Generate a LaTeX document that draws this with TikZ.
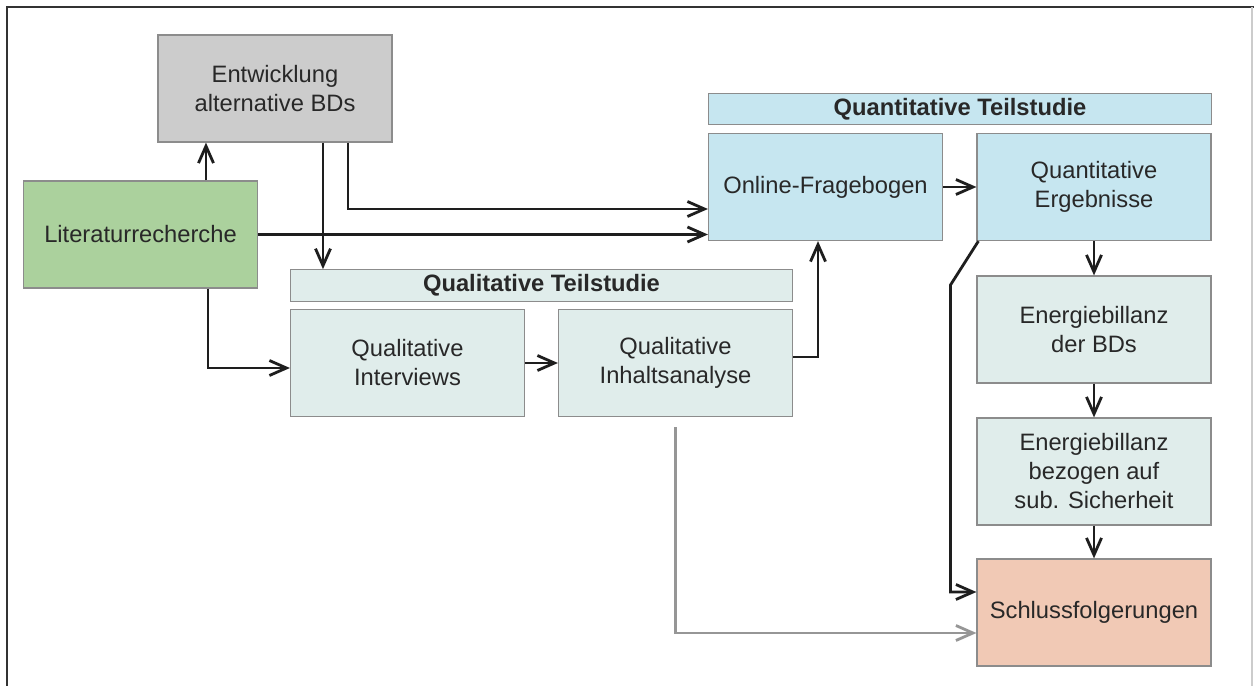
\documentclass[tikz,border=0pt]{standalone}
\usepackage{fontspec}
\setmainfont{Liberation Sans}
\usetikzlibrary{arrows.meta}

\definecolor{txtcol}{RGB}{40,40,40}
\definecolor{boxline}{RGB}{140,140,140}
\definecolor{graybox}{RGB}{204,204,204}
\definecolor{greenbox}{RGB}{171,209,157}
\definecolor{qualbox}{RGB}{224,237,235}
\definecolor{quantbox}{RGB}{198,230,240}
\definecolor{endbox}{RGB}{241,201,181}
\definecolor{arrcol}{RGB}{30,30,30}
\definecolor{grayarrcol}{RGB}{150,150,150}

\begin{document}
\begin{tikzpicture}[x=0.02cm, y=-0.02cm,
    box/.style={draw=boxline, line width=0.7pt, minimum width=4.68cm, minimum height=2.14cm,
      inner sep=0pt, align=center, text=txtcol, font=\fontsize{13.5}{16.5}\selectfont},
    headbox/.style={box, minimum width=10.05cm, minimum height=0.63cm, font=\fontsize{13.5}{16.5}\selectfont\bfseries},
    arr/.style={draw=arrcol, line width=1.6pt, -{Straight Barb[length=0.34cm, width=0.3cm, line width=1.6pt]}},
    grayarr/.style={arr, draw=grayarrcol}]
      \useasboundingbox (0,0) rectangle (1254,686);
      % Frame
      \draw[line width=1.2pt, black!80] (7,686) -- (7,7) -- (1254,7);
      \draw[line width=0.6pt, black!20] (1252,7) -- (1252,686);

      % Nodes
      \node[box, fill=graybox] at (275, 88.5) (entw) {Entwicklung\\alternative BDs};
      \node[box, fill=greenbox] at (140.5, 234.5) (lit) {Literaturrecherche};

      \node[headbox, fill=qualbox] at (541.5, 285.5) (qualhead) {Qualitative Teilstudie};
      \node[box, fill=qualbox] at (407.5, 363) (interv) {Qualitative\\Interviews};
      \node[box, fill=qualbox] at (675.5, 363) (inhalt) {Qualitative\\Inhaltsanalyse};

      \node[headbox, fill=quantbox] at (960, 109) (quanthead) {Quantitative Teilstudie};
      \node[box, fill=quantbox] at (825.5, 187) (online) {Online-Fragebogen};
      \node[box, fill=quantbox] at (1094, 187) (ergeb) {Quantitative\\Ergebnisse};

      \node[box, fill=qualbox] at (1094, 329.5) (energa) {Energiebillanz\\der BDs};
      \node[box, fill=qualbox] at (1094, 471.5) (energb) {Energiebillanz\\bezogen auf\\sub. Sicherheit};
      \node[box, fill=endbox] at (1094, 612.5) (schluss) {Schlussfolgerungen};

      % Connectors
      \draw[arr] ([xshift=1.31cm]lit.north) -- ([xshift=1.31cm]lit.north |- entw.south);
      \draw[arr] ([xshift=0.96cm]entw.south) -- ([xshift=0.96cm]entw.south |- qualhead.north);
      \draw[arr] ([xshift=1.46cm]entw.south) |- ([yshift=-0.44cm]online.west);
      \draw[arr] (lit.east) -- (lit.east -| online.west);
      \draw[arr] ([xshift=1.35cm]lit.south) |- ([yshift=-0.1cm]interv.west);
      \draw[arr] (interv) -- (inhalt);
      \draw[arr] ([yshift=0.12cm]inhalt.east) -| ([xshift=-0.15cm]online.south);

      \draw[arr] (online) -- (ergeb);
      \draw[arr] (ergeb) -- (energa);
      \draw[arr] (energa) -- (energb);
      \draw[arr] (energb) -- (schluss);
      \draw[arr] ([xshift=0.04cm]ergeb.south west) -- ++(-0.56cm,-0.88cm) |- ([yshift=0.41cm]schluss.west);

      \draw[grayarr] ([yshift=-0.2cm]inhalt.south) |- ([yshift=-0.41cm]schluss.west);
    \end{tikzpicture}
\end{document}
